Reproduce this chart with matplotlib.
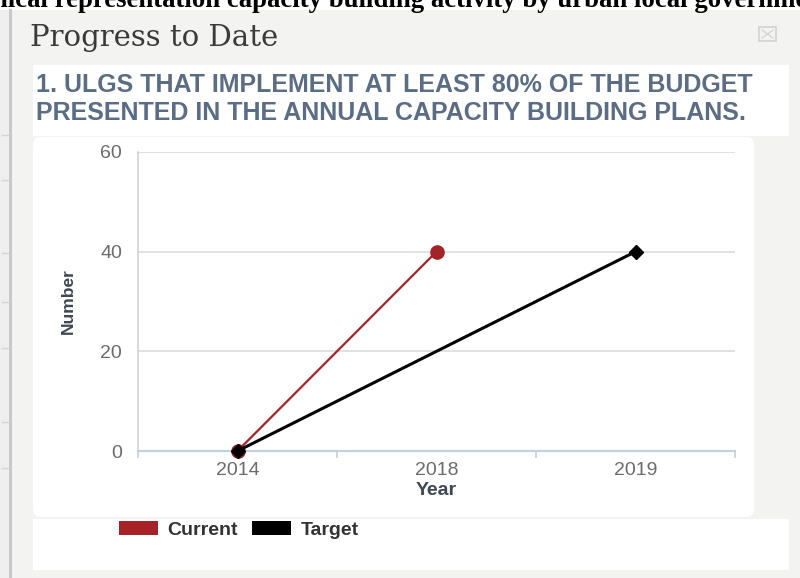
import matplotlib
matplotlib.use('Agg')
import matplotlib.pyplot as plt
from matplotlib.patches import FancyBboxPatch, Patch, Rectangle
from matplotlib.lines import Line2D

# data
years = ['2014', '2018', '2019']
current = [0, 40, None]
target = [0, None, 40]
yticks = [0, 20, 40, 60]

red = '#a52226'
W, H = 800, 578

fig = plt.figure(figsize=(8, 5.78), dpi=100)
fig.patch.set_facecolor('#f3f3f1')
tr = fig.dpi_scale_trans  # inches, 1 inch = 100 px


def box(x0, y0, x1, y1, color, r=0):
    # box given in pixels measured from the top-left corner
    style = f'round,pad=0,rounding_size={r / 100}' if r else 'square,pad=0'
    p = FancyBboxPatch((x0 / 100, (H - y1) / 100), (x1 - x0) / 100, (y1 - y0) / 100,
                       boxstyle=style, transform=tr, fc=color, ec='none', zorder=-5)
    fig.patches.append(p)


def line(x0, y0, x1, y1, color, lw):
    fig.add_artist(Line2D([x0 / 100, x1 / 100], [(H - y0) / 100, (H - y1) / 100],
                          transform=tr, color=color, lw=lw, zorder=-4))


# page background pieces
box(0, 0, W, 10, 'white')
box(0, 10, 8, H, '#efefef')
line(10, 10, 10, H, '#c8c8c8', 2.2)
for ty in [135, 180, 253, 302, 348, 422, 468]:
    line(2, ty, 8, ty, '#d4d4d4', 1)

box(33, 65, 789, 136, 'white')
box(33, 137, 754, 517, 'white', r=8)
box(33, 519, 789, 570, 'white')

# page title, cut off by the edges as in the screenshot
fig.text(-68 / 100, (H - 7) / 100,
         'Graphical representation capacity building activity by urban local governments',
         transform=tr, family='Liberation Serif', weight='bold', fontsize=19.3, va='baseline', color='black')

fig.text(30 / 100, (H - 46) / 100, 'Progress to Date', transform=tr, family='DejaVu Serif',
         fontsize=21, va='baseline', color='#3a3a3a')

# close icon
fig.patches.append(Rectangle((759 / 100, (H - 41) / 100), 17 / 100, 14 / 100, transform=tr,
                             fc='none', ec='#d2d2d2', lw=1.2, zorder=-3))
line(762, 30, 773, 38, '#d2d2d2', 0.9)
line(762, 38, 773, 30, '#d2d2d2', 0.9)

hdr = dict(transform=tr, family='Liberation Sans', weight='bold', fontsize=18,
           va='baseline', color='#5a6d84')
fig.text(36 / 100, (H - 92) / 100, '1. ULGS THAT IMPLEMENT AT LEAST 80% OF THE BUDGET', **hdr)
fig.text(36 / 100, (H - 120) / 100, 'PRESENTED IN THE ANNUAL CAPACITY BUILDING PLANS.', **hdr)

# the chart
ax = fig.add_axes([138 / W, 1 - 451 / H, 597 / W, 299 / H])
ax.set_zorder(2)
ax.patch.set_alpha(0)

xi = list(range(len(years)))
cx = [i for i in xi if current[i] is not None]
cy = [current[i] for i in cx]
tx = [i for i in xi if target[i] is not None]
ty_ = [target[i] for i in tx]

ax.plot(cx, cy, color=red, lw=1.6, marker='o', ms=9.5, zorder=3, clip_on=False)
ax.plot(tx, ty_, color='black', lw=2.2, marker='D', ms=7, zorder=4, clip_on=False)

ax.set_xlim(-0.5, len(years) - 0.5)
ax.set_ylim(0, 60)
ax.set_yticks(yticks)
ax.set_xticks(xi)
ax.set_xticklabels(years)
ax.set_xticks([i - 0.5 for i in range(len(years) + 1)], minor=True)

ax.grid(axis='y', color='#d9d9d9', lw=1.1)
ax.set_axisbelow(True)
for s in ['top', 'right']:
    ax.spines[s].set_visible(False)
ax.spines['left'].set_color('#d0d0d0')
ax.spines['left'].set_linewidth(1.1)
ax.spines['bottom'].set_color('#c0d0e0')
ax.spines['bottom'].set_linewidth(1.5)

ax.tick_params(axis='x', which='major', length=0, pad=8, labelsize=14, labelcolor='#6b6b6b')
ax.tick_params(axis='x', which='minor', length=5, width=1.2, color='#c0d0e0')
ax.tick_params(axis='y', length=0, pad=11.5, labelsize=14, labelcolor='#6b6b6b')
for t in ax.get_xticklabels() + ax.get_yticklabels():
    t.set_family('Liberation Sans')

ax.set_xlabel('Year', family='Liberation Sans', weight='bold', fontsize=14, color='#3e4756')
ax.xaxis.set_label_coords(0.5, (451 - 482) / 299)
ax.set_ylabel('Number', family='Liberation Sans', weight='bold', fontsize=12.5, color='#3e4756', va='center')
ax.yaxis.set_label_coords((68 - 138) / 597, 0.5)

handles = [Patch(fc=red, ec='none', label='Current'), Patch(fc='black', ec='none', label='Target')]
leg = ax.legend(handles=handles, loc='center left', bbox_to_anchor=(119 / 100, (H - 530) / 100),
                bbox_transform=tr, ncol=2, frameon=False, borderpad=0, borderaxespad=0,
                handlelength=2.0, handleheight=0.77, handletextpad=0.5, columnspacing=0.72,
                prop={'family': 'Liberation Sans', 'weight': 'bold', 'size': 14})
for t in leg.get_texts():
    t.set_color('#333333')

fig.savefig('out.png', dpi=100, facecolor=fig.get_facecolor())
